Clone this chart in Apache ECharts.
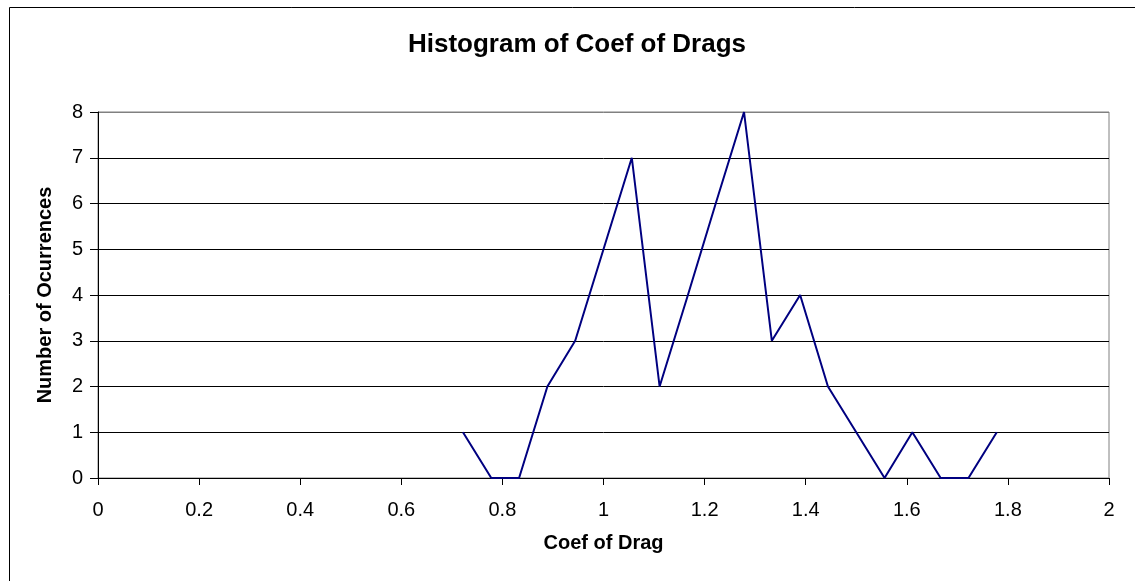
<!DOCTYPE html>
<html>
<head>
<meta charset="utf-8">
<title>Histogram of Coef of Drags</title>
<script src="https://cdn.jsdelivr.net/npm/echarts@6/dist/echarts.min.js"></script>
<style>
  html, body { margin: 0; padding: 0; background: #ffffff; }
  #chart { width: 1135px; height: 581px; }
</style>
</head>
<body>
<div id="chart"></div>
<script>
// Bin centres of the drag coefficient and how many samples fall in each bin
const coefDrag = [0.722, 0.778, 0.833, 0.889, 0.944, 1.0, 1.056, 1.111, 1.167, 1.222,
                  1.278, 1.333, 1.389, 1.444, 1.5, 1.556, 1.611, 1.667, 1.722, 1.778];
const occurrences = [1, 0, 0, 2, 3, 5, 7, 2, 4, 6,
                     8, 3, 4, 2, 1, 0, 1, 0, 0, 1];

const xTicks = [0, 0.2, 0.4, 0.6, 0.8, 1, 1.2, 1.4, 1.6, 1.8, 2];
const yTicks = [0, 1, 2, 3, 4, 5, 6, 7, 8];

const FONT = '"Liberation Sans", Arial, sans-serif';

// gridlines are black except the top one, which sits on the grey plot frame
const gridColors = yTicks.map((v, i) => (i === yTicks.length - 1 ? '#808080' : '#000000'));

const chart = echarts.init(document.getElementById('chart'), null, { renderer: 'canvas' });

chart.setOption({
  backgroundColor: '#ffffff',
  animation: false,
  graphic: [
    {
      // chart-area frame
      type: 'rect',
      shape: { x: 9.5, y: 7.5, width: 1300, height: 800 },
      style: { fill: 'none', stroke: '#000000', lineWidth: 1 },
      silent: true
    },
    {
      type: 'text',
      x: 577,
      y: 45,
      style: {
        text: 'Histogram of Coef of Drags',
        fontFamily: FONT, fontSize: 26, fontWeight: 'bold', fill: '#000000',
        align: 'center', verticalAlign: 'middle'
      },
      silent: true
    }
  ],
  grid: {
    left: 98, right: 26, top: 112, bottom: 103,
    show: true,
    borderColor: '#808080',
    borderWidth: 1,
    backgroundColor: 'transparent'
  },
  xAxis: {
    type: 'value',
    min: xTicks[0],
    max: xTicks[xTicks.length - 1],
    interval: 0.2,
    name: 'Coef of Drag',
    nameLocation: 'middle',
    nameGap: 55,
    nameMoveOverlap: false,
    nameTextStyle: {
      fontFamily: FONT, fontSize: 20, fontWeight: 'bold', color: '#000000',
      verticalAlign: 'top'
    },
    axisLine: { show: true, onZero: false, lineStyle: { color: '#000000', width: 1 } },
    axisTick: { show: true, inside: false, length: 7, lineStyle: { color: '#000000' } },
    axisLabel: {
      fontFamily: FONT, fontSize: 20, color: '#000000', margin: 22,
      formatter: v => String(parseFloat(v.toFixed(1)))
    },
    splitLine: { show: false }
  },
  yAxis: {
    type: 'value',
    min: yTicks[0],
    max: yTicks[yTicks.length - 1],
    interval: 1,
    name: 'Number of Ocurrences',
    nameLocation: 'middle',
    nameGap: 43,
    nameTextStyle: { fontFamily: FONT, fontSize: 20, fontWeight: 'bold', color: '#000000' },
    axisLine: { show: true, lineStyle: { color: '#000000', width: 1 } },
    axisTick: { show: true, inside: false, length: 8, lineStyle: { color: '#000000' } },
    axisLabel: { fontFamily: FONT, fontSize: 20, color: '#000000', margin: 15 },
    splitLine: { show: true, lineStyle: { color: gridColors, width: 1 } }
  },
  series: [{
    type: 'line',
    data: coefDrag.map((x, i) => [x, occurrences[i]]),
    showSymbol: false,
    symbol: 'none',
    lineStyle: { color: '#000080', width: 2 },
    itemStyle: { color: '#000080' },
    z: 5
  }]
});
</script>
</body>
</html>
